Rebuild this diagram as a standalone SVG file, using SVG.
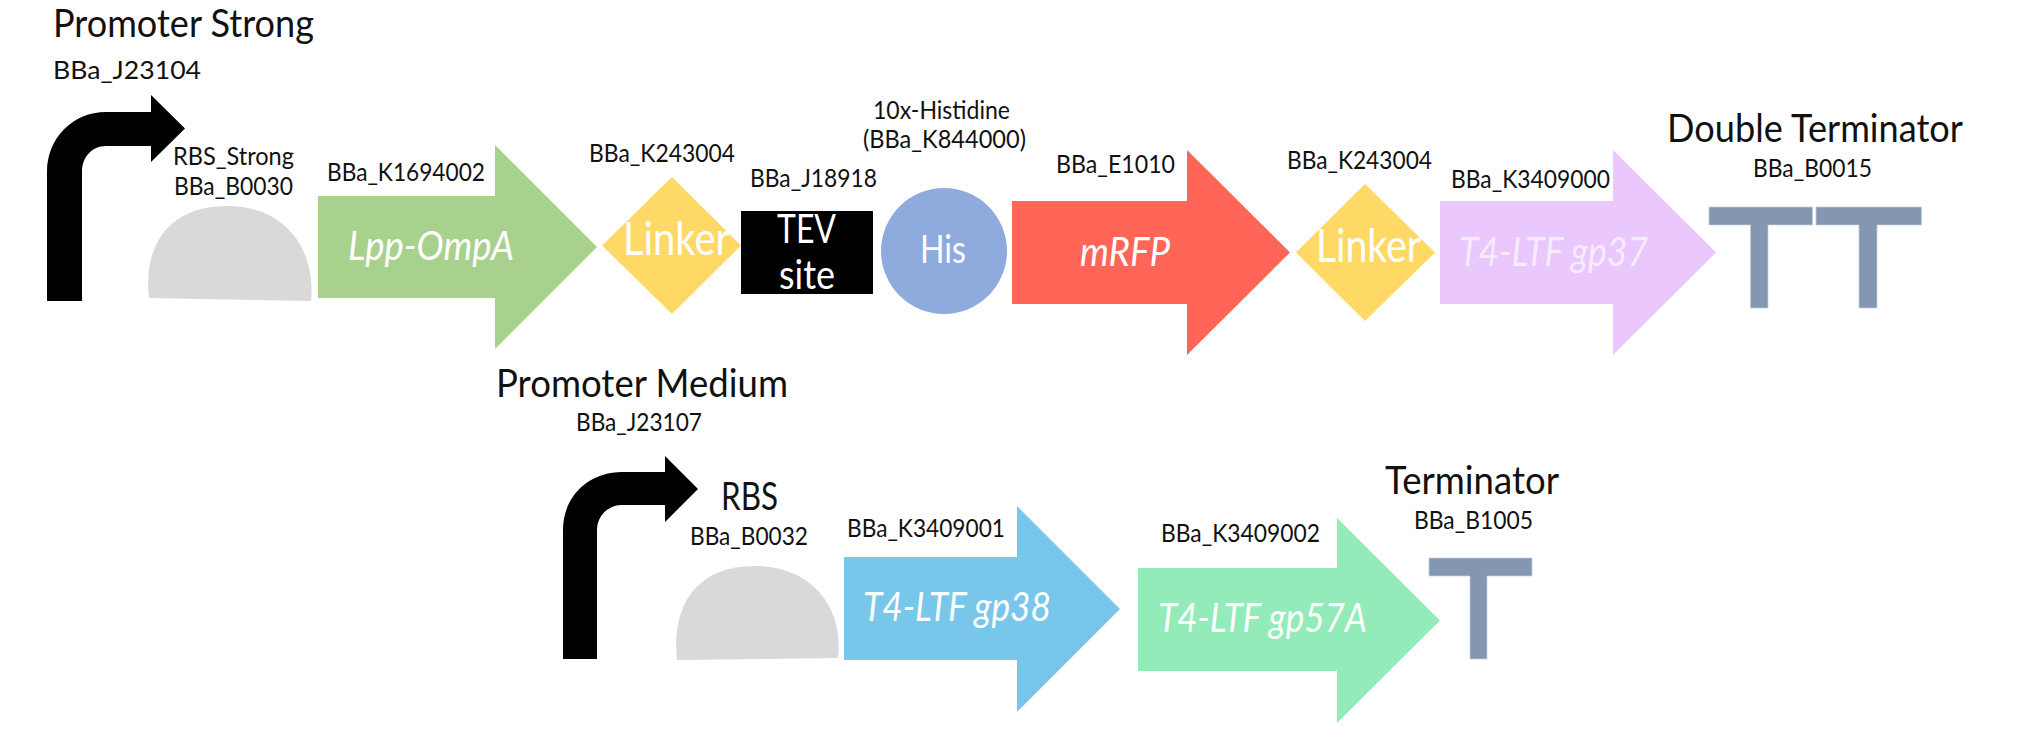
<svg xmlns="http://www.w3.org/2000/svg" width="2018" height="742" viewBox="0 0 2018 742">
<style>
text{font-family:"Lato","Open Sans","Liberation Sans",sans-serif;fill:#111}
.h{font-size:38px}
.s{font-size:25px}
.b{font-size:41px;fill:#fff}
.i{font-style:italic;font-size:41px;fill:#fff}
.l{font-size:47px;fill:#fff}
.t{fill:#8497b0;stroke:#c4cede;stroke-width:.7}
.r{fill:#d9d9d9}
.k{fill:#000}
.y{fill:#ffd966}
</style>
<rect width="2018" height="742" fill="#fff"/>
<g id="promoter-strong">
<path class="k" d="M47 301V172C47 138 73 112 106 112H151V95L185 128.500L151 162V146H106C92 146 82 157 82 172V301Z"/>
<text class="h" x="53" y="37" textLength="261" lengthAdjust="spacingAndGlyphs">Promoter Strong</text>
<text class="s" x="53" y="79" textLength="148" lengthAdjust="spacingAndGlyphs">BBa_J23104</text>
</g>
<g id="rbs-strong">
<path class="r" d="M149 298C143 246 168 206 227 206C286 206 316 250 311 301Z"/>
<text class="s" x="173" y="165" textLength="121" lengthAdjust="spacingAndGlyphs">RBS_Strong</text>
<text class="s" x="174" y="195" textLength="119" lengthAdjust="spacingAndGlyphs">BBa_B0030</text>
</g>
<g id="lpp-ompa">
<path fill="#a9d18e" d="M318 196H495V145L597 247L495 349V298H318Z"/>
<text class="s" x="327" y="181" textLength="158" lengthAdjust="spacingAndGlyphs">BBa_K1694002</text>
<text class="i" x="348" y="260" textLength="166" lengthAdjust="spacingAndGlyphs">Lpp-OmpA</text>
</g>
<g id="linker-1">
<path class="y" d="M672 177L741 245.500L672 314L602 245.500Z"/>
<text class="s" x="589" y="162" textLength="146" lengthAdjust="spacingAndGlyphs">BBa_K243004</text>
<text class="l" x="623" y="255" textLength="107" lengthAdjust="spacingAndGlyphs">Linker</text>
</g>
<g id="tev-site">
<rect class="k" x="741" y="211" width="132" height="83"/>
<text class="s" x="750" y="187" textLength="127" lengthAdjust="spacingAndGlyphs">BBa_J18918</text>
<text class="b" x="777" y="243" textLength="59" lengthAdjust="spacingAndGlyphs">TEV</text>
<text class="b" x="779" y="289" textLength="56" lengthAdjust="spacingAndGlyphs">site</text>
</g>
<g id="his-tag">
<ellipse fill="#8faadc" cx="944" cy="251" rx="63" ry="63"/>
<text class="s" x="873" y="119" textLength="137" lengthAdjust="spacingAndGlyphs">10x-Histidine</text>
<text class="s" x="863" y="148" textLength="163" lengthAdjust="spacingAndGlyphs">(BBa_K844000)</text>
<text class="b" x="920" y="263" textLength="46" lengthAdjust="spacingAndGlyphs" style="font-size:38px">His</text>
</g>
<g id="mrfp">
<path fill="#ff6657" d="M1012 201H1187V150L1290 252.500L1187 355V304H1012Z"/>
<text class="s" x="1056" y="173" textLength="119" lengthAdjust="spacingAndGlyphs">BBa_E1010</text>
<text class="i" x="1080" y="266" textLength="90" lengthAdjust="spacingAndGlyphs">mRFP</text>
</g>
<g id="linker-2">
<path class="y" d="M1365 184L1435 252.500L1365 321L1296 252.500Z"/>
<text class="s" x="1287" y="169" textLength="145" lengthAdjust="spacingAndGlyphs">BBa_K243004</text>
<text class="l" x="1316" y="262" textLength="105" lengthAdjust="spacingAndGlyphs">Linker</text>
</g>
<g id="gp37">
<path fill="#eac7fd" d="M1440 201H1613V150L1716 252.500L1613 355V304H1440Z"/>
<text class="s" x="1451" y="188" textLength="159" lengthAdjust="spacingAndGlyphs">BBa_K3409000</text>
<text class="i" x="1459" y="266" textLength="189" lengthAdjust="spacingAndGlyphs" style="fill:#f6ecfe">T4-LTF gp37</text>
</g>
<g id="double-terminator">
<path class="t" d="M1709 207H1812.500V225H1768V308H1750.500V225H1709Z"/>
<path class="t" d="M1816 207H1921.500V225H1877V308H1859V225H1816Z"/>
<text class="h" x="1667" y="142" textLength="296" lengthAdjust="spacingAndGlyphs">Double Terminator</text>
<text class="s" x="1753" y="177" textLength="119" lengthAdjust="spacingAndGlyphs">BBa_B0015</text>
</g>
<g id="promoter-medium">
<path class="k" d="M563 659V530C563 496 589 472 622 472H665V456L698 489L665 522V505H622C608 505 597 516 597 530V659Z"/>
<text class="h" x="496" y="397" textLength="292" lengthAdjust="spacingAndGlyphs">Promoter Medium</text>
<text class="s" x="576" y="431" textLength="126" lengthAdjust="spacingAndGlyphs">BBa_J23107</text>
</g>
<g id="rbs">
<path class="r" d="M677 660C671 606 696 566 755 566C814 566 844 610 838 658Z"/>
<text class="h" x="721" y="510" textLength="57" lengthAdjust="spacingAndGlyphs">RBS</text>
<text class="s" x="690" y="545" textLength="118" lengthAdjust="spacingAndGlyphs">BBa_B0032</text>
</g>
<g id="gp38">
<path fill="#78c7ea" d="M844 557H1017V506L1120 609L1017 712V660H844Z"/>
<text class="s" x="847" y="537" textLength="158" lengthAdjust="spacingAndGlyphs">BBa_K3409001</text>
<text class="i" x="863" y="621" textLength="188" lengthAdjust="spacingAndGlyphs">T4-LTF gp38</text>
</g>
<g id="gp57a">
<path fill="#92ebb9" d="M1138 568H1337V518L1440 620.500L1337 723V671H1138Z"/>
<text class="s" x="1161" y="542" textLength="159" lengthAdjust="spacingAndGlyphs">BBa_K3409002</text>
<text class="i" x="1158" y="632" textLength="209" lengthAdjust="spacingAndGlyphs">T4-LTF gp57A</text>
</g>
<g id="terminator">
<path class="t" d="M1429 558H1532V576H1487V659H1470V576H1429Z"/>
<text class="h" x="1385" y="494" textLength="174" lengthAdjust="spacingAndGlyphs">Terminator</text>
<text class="s" x="1414" y="529" textLength="119" lengthAdjust="spacingAndGlyphs">BBa_B1005</text>
</g>
</svg>
